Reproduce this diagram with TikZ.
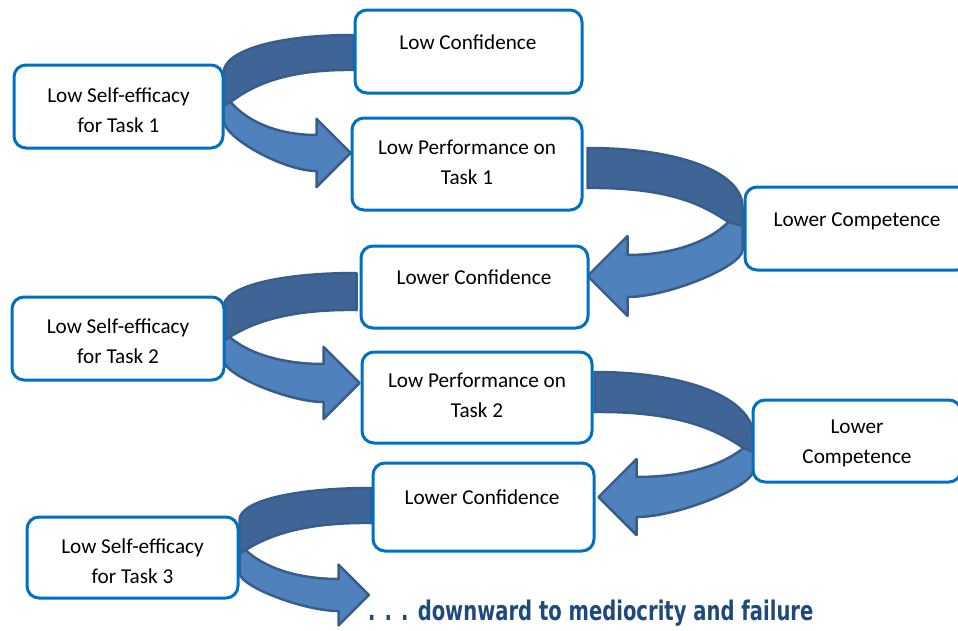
\documentclass[tikz,border=0pt]{standalone}
\usepackage{fontspec}
\usepackage{graphicx}
\setmainfont{Carlito}
\newfontfamily\tailfont{DejaVu Sans}
\usetikzlibrary{calc}

\definecolor{boxblue}{HTML}{0070C0}
\definecolor{ribbondark}{HTML}{3F6597}
\definecolor{ribbonlight}{HTML}{4F81BD}
\definecolor{ribbonedge}{HTML}{385D8A}
\definecolor{tailblue}{HTML}{1F497D}

\pgfdeclarelayer{ribbons}
\pgfsetlayers{ribbons,main}

\tikzset{
  flowbox/.style={draw=boxblue, line width=3pt, rounded corners=12pt, fill=white, inner sep=0pt},
  boxtext/.style={font=\fontsize{21.2}{30}\selectfont, align=center, inner sep=0pt},
  onetext/.style={boxtext, anchor=base},
  ribbonback/.style={fill=ribbondark, draw=ribbonedge, line width=2.5pt, line join=round},
  ribbonfront/.style={fill=ribbonlight, draw=ribbonedge, line width=2.5pt, line join=round},
}

% Curved ribbon arrow in local coordinates: starts at (0,0) with band width #2,
% loops out to x=-#1 and returns with its head pointing back towards x=0.
% #3 outer bend depth, #4/#5 inset and depth of the fold, #6 start of the front
% outer edge, #7 head base x, #8 head centre y, #9 half width of the front band.
\newcommand{\ribbonarrow}[9]{%
  \draw[ribbonback]
    (0,0) .. controls ({-0.58*#1},0) and ({-#1},{0.4*#3}) .. ({-#1},#3)
    -- ({-#1},{#5+4}) -- ({-#1+#4},#5)
    .. controls ({-#1+#4+0.15*#1},{#5-0.45*(#5-#2)}) and ({-0.55*#1},{#2-1}) .. (0,#2)
    -- cycle;
  \draw[ribbonfront]
    ({-#1+#4},#5)
    .. controls ({-#1+#4+0.2*(#7+#1-#4)},{#5+0.6*(#8-#9-#5)}) and ({#7-0.45*(#7+#1-#4)},{#8-#9}) .. (#7,{#8-#9})
    -- (#7,{#8-1.9*#9}) -- ({#7+1.9*#9},#8) -- (#7,{#8+1.9*#9}) -- (#7,{#8+#9})
    .. controls ({#7-0.35*(#7+#1)},{#8+#9}) and ({-#1},{#6+0.35*(#8+#9-#6)}) .. ({-#1},#6)
    -- ({-#1},{#5+4}) -- cycle;
}

\begin{document}
\begin{tikzpicture}[x=1pt, y=-1pt]
  \useasboundingbox (0,0) rectangle (958,630);
  \clip (0,0) rectangle (958,630);

  % boxes
  \node[flowbox, minimum width=209pt, minimum height=83pt] (eff1) at (118.5,106.5) {};
  \node[flowbox, minimum width=227pt, minimum height=83pt] (conf1) at (468.5,51.5) {};
  \node[flowbox, minimum width=230pt, minimum height=92pt] (perf1) at (467,164) {};
  \node[flowbox, minimum width=224pt, minimum height=83pt] (comp1) at (857,228.5) {};
  \node[flowbox, minimum width=227pt, minimum height=82pt] (conf2) at (474.5,287) {};
  \node[flowbox, minimum width=212pt, minimum height=83pt] (eff2) at (118,338.5) {};
  \node[flowbox, minimum width=230pt, minimum height=91pt] (perf2) at (477,397.5) {};
  \node[flowbox, minimum width=208pt, minimum height=82pt] (comp2) at (857,441) {};
  \node[flowbox, minimum width=221pt, minimum height=88pt] (conf3) at (483.5,507) {};
  \node[flowbox, minimum width=211pt, minimum height=81pt] (eff3) at (132.5,557.5) {};

  % box texts
  \node[boxtext] (eff1t) at (118.5,110) {Low Self-efficacy\\for Task 1};
  \node[onetext] (conf1t) at (468,49.5) {Low Confidence};
  \node[boxtext] (perf1t) at (467,162.5) {Low Performance on\\Task 1};
  \node[onetext] (comp1t) at (857,226.5) {Lower Competence};
  \node[onetext] (conf2t) at (474,284.5) {Lower Confidence};
  \node[boxtext] (eff2t) at (118,341) {Low Self-efficacy\\for Task 2};
  \node[boxtext] (perf2t) at (477,395) {Low Performance on\\Task 2};
  \node[boxtext] (comp2t) at (857,443) {Lower\\Competence};
  \node[onetext] (conf3t) at (482,504.5) {Lower Confidence};
  \node[boxtext] (eff3t) at (132.5,561) {Low Self-efficacy\\for Task 3};

  \node[anchor=base west, inner sep=0pt, text=tailblue] (tail) at (368,620)
    {\scalebox{0.725}[1]{\tailfont\bfseries\fontsize{27}{30}\selectfont . . . downward to mediocrity and failure}};

  % curved ribbon arrows behind the boxes
  \begin{pgfonlayer}{ribbons}
    \begin{scope}[shift={($(conf1.west)+(0,-16.5)$)}]
      \ribbonarrow{130}{35}{38}{7}{67}{85}{-37}{118}{18}
    \end{scope}
    \begin{scope}[shift={($(perf1.east)+(4,-16)$)}, xscale=-1]
      \ribbonarrow{155}{40}{59}{14}{74}{102}{-40}{128}{21}
    \end{scope}
    \begin{scope}[shift={($(conf2.west)+(-3,-14)$)}]
      \ribbonarrow{133}{37}{34}{6}{64}{87}{-33}{110}{19}
    \end{scope}
    \begin{scope}[shift={($(perf2.east)+(1,-25.5)$)}, xscale=-1]
      \ribbonarrow{159}{40}{65}{10}{76}{98}{-42}{125}{20}
    \end{scope}
    \begin{scope}[shift={($(conf3.west)+(0,-19)$)}]
      \ribbonarrow{132}{35}{32}{6}{62}{85}{-33}{107}{16}
    \end{scope}
  \end{pgfonlayer}
\end{tikzpicture}
\end{document}
